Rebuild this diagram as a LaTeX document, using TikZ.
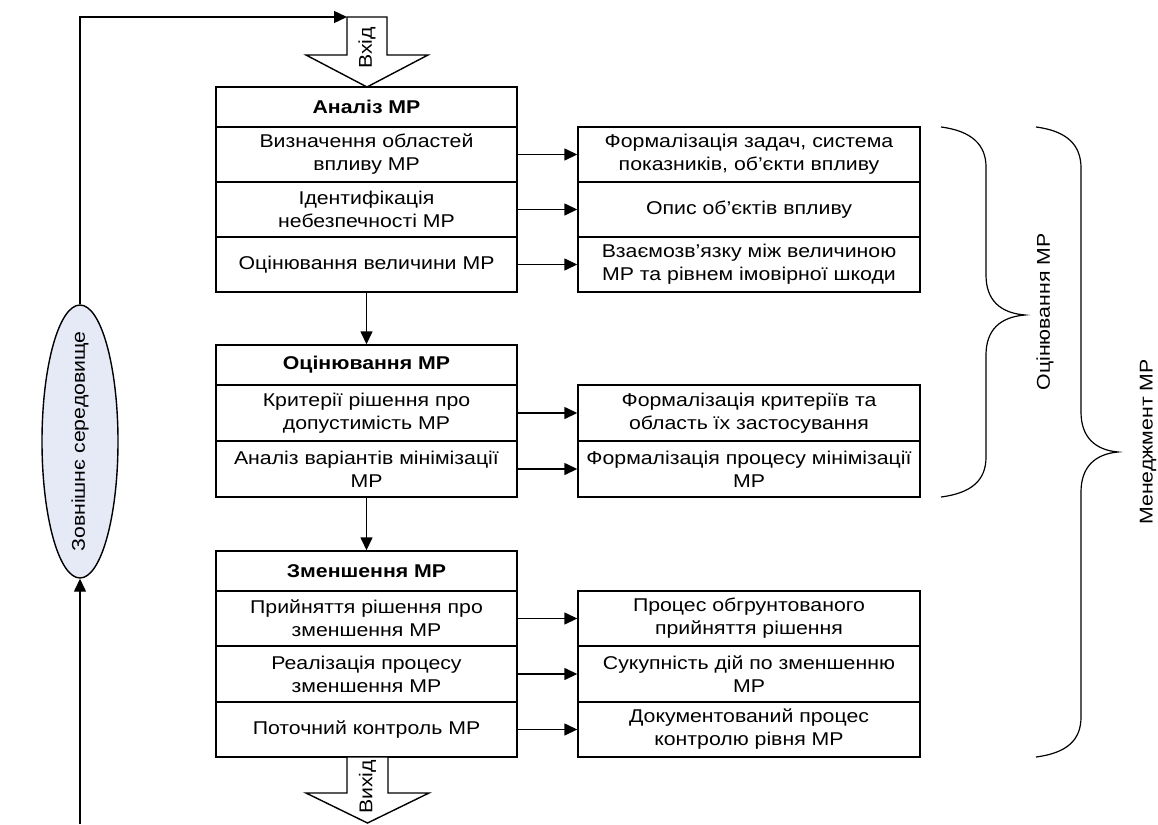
\documentclass[tikz,border=0pt]{standalone}
\usepackage{fontspec}
\setmainfont{Liberation Sans}[FakeStretch=1.15]
\usetikzlibrary{arrows.meta,shapes.geometric}
\definecolor{envfill}{HTML}{E6EAF6}
\begin{document}
\fontsize{18.5}{23}\selectfont
\begin{tikzpicture}[x=1pt,y=-1pt,line width=1.4pt,
  box/.style={draw, shape=rectangle, minimum width=301pt, minimum height=55pt, align=center, inner sep=0pt, fill=white},
  hbox/.style={box, minimum height=40pt, font=\bfseries},
  rbox/.style={box, minimum width=342pt},
  arr/.style={-{Triangle[length=13pt,width=12pt]}},
  barrow/.style={draw, fill=white, line join=miter}]
\useasboundingbox (0,0) rectangle (1158,824);
% analysis block
\node[hbox] (a0) at (366.5,107) {Аналіз МР};
\node[box] (a1) at (366.5,154.5) {Визначення областей\\впливу МР};
\node[box] (a2) at (366.5,209.5) {Ідентифікація\\небезпечності МР};
\node[box] (a3) at (366.5,264.5) {Оцінювання величини МР};
\node[rbox] (ra1) at (749,154.5) {Формалізація задач, система\\показників, об'єкти впливу};
\node[rbox] (ra2) at (749,209.5) {Опис об'єктів впливу};
\node[rbox] (ra3) at (749,264.5) {Взаємозв'язку між величиною\\МР та рівнем імовірної шкоди};
% evaluation block
\node[hbox] (b0) at (366.5,365) {Оцінювання МР};
\node[box, minimum height=56pt] (b1) at (366.5,413) {Критерії рішення про\\допустимість МР};
\node[box, minimum height=56pt] (b2) at (366.5,469) {Аналіз варіантів мінімізації\\МР};
\node[rbox, minimum height=56pt] (rb1) at (749,413) {Формалізація критеріїв та\\область їх застосування};
\node[rbox, minimum height=56pt] (rb2) at (749,469) {Формалізація процесу мінімізації\\МР};
% reduction block
\node[hbox] (c0) at (366.5,571) {Зменшення МР};
\node[box] (c1) at (366.5,618.5) {Прийняття рішення про\\зменшення МР};
\node[box, minimum height=56pt] (c2) at (366.5,674) {Реалізація процесу\\зменшення МР};
\node[box] (c3) at (366.5,729.5) {Поточний контроль МР};
\node[rbox] (rc1) at (749,618.5) {Процес обгрунтованого\\прийняття рішення};
\node[rbox, minimum height=56pt] (rc2) at (749,674) {Сукупність дій по зменшенню\\МР};
\node[rbox] (rc3) at (749,729.5) {Документований процес\\контролю рівня МР};
% environment
\node[draw, shape=ellipse, fill=envfill, minimum width=76pt, minimum height=273pt, inner sep=0pt] (env) at (80,441.5) {};
\node[rotate=90] (envt) at (env.center) {Зовнішнє середовище};
% input / output arrows
\draw[barrow] (347,17) -- (387,17) -- (387,55) -- (428,55) -- (367,87) -- (306,55) -- (347,55) -- cycle;
\node[rotate=90] (inp) at (367,48) {Вхід};
\draw[barrow] (347,757) -- (388,757) -- (388,793) -- (429,793) -- (367.5,823) -- (306,793) -- (347,793) -- cycle;
\node[rotate=90] (outp) at (367.5,787) {Вихід};
\coordinate (intop) at (347,17);
\coordinate (envlow) at (80,824);
% connectors
\draw[arr] (env.north) |- (intop);
\draw[arr] (envlow) -- (env.south);
\draw[arr] (a3.south) -- (b0.north);
\draw[arr] (b2.south) -- (c0.north);
\draw[arr] (a1.east) -- (ra1.west);
\draw[arr] (a2.east) -- (ra2.west);
\draw[arr] (a3.east) -- (ra3.west);
\draw[arr] (b1.east) -- (rb1.west);
\draw[arr] (b2.east) -- (rb2.west);
\draw[arr] (c1.east) -- (rc1.west);
\draw[arr] (c2.east) -- (rc2.west);
\draw[arr] (c3.east) -- (rc3.west);
% braces
\draw[line width=1.2pt] (941,127) .. controls (972,131) and (986,145) .. (986,167) -- (986,275)
  .. controls (986,300) and (1000,313) .. (1025,315) .. controls (1000,317) and (986,330) .. (986,355)
  -- (986,457) .. controls (986,480) and (972,493) .. (941,497);
\draw[line width=1.2pt] (1036,127) .. controls (1067,131) and (1081,145) .. (1081,168) -- (1081,412)
  .. controls (1081,437) and (1095,450) .. (1118,452) .. controls (1095,454) and (1081,467) .. (1081,492)
  -- (1081,717) .. controls (1081,740) and (1067,753) .. (1036,757);
\node[rotate=90] (evl) at (1045,312) {Оцінювання МР};
\node[rotate=90] (mgl) at (1148,442) {Менеджмент МР};
\end{tikzpicture}
\end{document}
